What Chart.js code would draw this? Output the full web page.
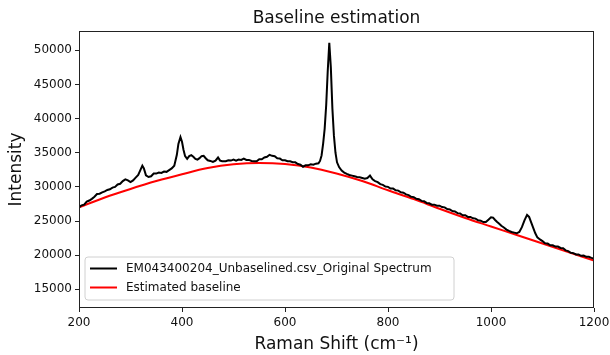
<!DOCTYPE html>
<html>
<head>
<meta charset="utf-8">
<script src="https://cdn.jsdelivr.net/npm/chart.js@4"></script>
<style>
html,body{margin:0;padding:0;background:#fff;}
#wrap{width:610px;height:355px;}
</style>
</head>
<body>
<div id="wrap"><canvas id="c" width="610" height="355"></canvas></div>
<script>
const chartTitle = "Baseline estimation";
const xTitle = "Raman Shift (cm\u207B\u00B9)";
const yTitle = "Intensity";
const spectrumLabel = "EM043400204_Unbaselined.csv_Original Spectrum";
const baselineLabel = "Estimated baseline";
const xTicks = [200, 400, 600, 800, 1000, 1200];
const yTicks = [15000, 20000, 25000, 30000, 35000, 40000, 45000, 50000];

const spectrumX = [200,205,210,215,220,225,230,235,240,245,250,255,260,265,270,275,280,285,290,295,
300,305,310,315,320,323,326,330,335,340,345,350,355,360,365,370,375,380,385,390,
393,397,400,403,406,410,414,418,422,426,430,434,438,442,446,450,455,460,465,470,
474,478,485,490,495,500,505,510,515,520,525,530,535,540,545,550,555,560,565,570,
575,580,585,590,595,600,605,610,615,620,625,630,635,640,645,650,655,660,665,668,
671,674,677,680,683,686,689,692,695,698,701,705,710,715,720,725,730,735,740,745,
750,755,760,765,770,775,780,785,790,795,800,805,810,815,820,825,830,835,840,845,
850,855,860,865,870,875,880,885,890,895,900,905,910,915,920,925,930,935,940,945,
950,955,960,965,970,975,980,985,990,995,1000,1004,1008,1012,1016,1020,1025,1030,1035,1040,
1045,1050,1055,1060,1065,1070,1074,1078,1082,1086,1090,1095,1100,1105,1110,1115,1120,1125,1130,1135,
1140,1145,1150,1155,1160,1165,1170,1175,1180,1185,1190,1195,1200];
const spectrumY = [27000,27300,27400,27850,28000,28250,28550,28950,29000,29200,29350,29550,29650,29900,30000,30350,30450,30850,31100,30950,
30700,30950,31350,31750,32600,33100,32700,31700,31450,31550,31950,31950,32100,32050,32250,32200,32450,32700,33100,34700,
36300,37300,36600,35400,34500,34100,34500,34650,34400,34100,34000,34200,34500,34550,34200,33900,33800,33650,33850,34300,
33850,33750,33750,33900,33850,34000,33850,34000,33950,34150,33950,33950,33800,33750,33750,34050,34050,34300,34400,34700,
34550,34500,34200,34150,33900,33900,33750,33750,33600,33600,33350,33250,32950,33150,33150,33300,33250,33400,33450,33800,
34600,36300,38500,42000,47000,51100,47500,41500,37500,35000,33600,32900,32400,32100,31900,31750,31650,31550,31450,31400,
31300,31200,31300,31650,31100,30850,30700,30400,30300,30050,30000,29750,29750,29500,29450,29200,29150,28900,28800,28550,
28500,28250,28200,27950,27900,27650,27600,27400,27400,27250,27250,27050,27000,26750,26700,26450,26400,26150,26100,25850,
25850,25600,25600,25400,25350,25100,25050,24850,24850,25200,25550,25500,25150,24850,24600,24300,24050,23750,23550,23400,
23300,23200,23400,24100,25100,25900,25600,24800,24000,23200,22600,22300,22050,21750,21700,21450,21450,21250,21250,21050,
21000,20700,20600,20350,20300,20100,20100,19900,19950,19750,19750,19600,19500];

const baselineX = [200,250,300,350,400,450,500,550,600,650,700,750,800,850,900,950,1000,1050,1100,1150,1200];
const baselineY = [27000,28450,29700,30850,31850,32750,33300,33500,33350,32850,31950,30850,29500,28200,26800,25450,24200,22950,21700,20450,19200];

const FONT = "'DejaVu Sans', 'Liberation Sans', sans-serif";

const frameAndLegend = {
  id: 'frameAndLegend',
  afterDatasetsDraw(chart) {
    const ctx = chart.ctx;
    const a = chart.chartArea;
    ctx.save();
    ctx.strokeStyle = '#222';
    ctx.lineWidth = 1;
    ctx.strokeRect(Math.round(a.left) + 0.5, Math.round(a.top) + 0.5,
                   Math.round(a.right - a.left) - 1, Math.round(a.bottom - a.top) - 1);
    const bx = a.left + 6, bw = 369, bh = 43;
    const by = a.bottom - 8 - bh;
    ctx.beginPath();
    const r = 3;
    ctx.moveTo(bx + r, by);
    ctx.lineTo(bx + bw - r, by); ctx.arcTo(bx + bw, by, bx + bw, by + r, r);
    ctx.lineTo(bx + bw, by + bh - r); ctx.arcTo(bx + bw, by + bh, bx + bw - r, by + bh, r);
    ctx.lineTo(bx + r, by + bh); ctx.arcTo(bx, by + bh, bx, by + bh - r, r);
    ctx.lineTo(bx, by + r); ctx.arcTo(bx, by, bx + r, by, r);
    ctx.closePath();
    ctx.fillStyle = 'rgba(255,255,255,0.8)';
    ctx.fill();
    ctx.strokeStyle = '#d0d0d0';
    ctx.lineWidth = 1;
    ctx.stroke();
    ctx.font = '12px ' + FONT;
    ctx.textBaseline = 'middle';
    ctx.textAlign = 'left';
    chart.data.datasets.forEach((ds, i) => {
      const y = by + 11.5 + i * 19;
      ctx.strokeStyle = ds.borderColor;
      ctx.lineWidth = 2;
      ctx.beginPath();
      ctx.moveTo(bx + 5, y);
      ctx.lineTo(bx + 32, y);
      ctx.stroke();
      ctx.fillStyle = '#111';
      ctx.fillText(ds.label, bx + 41, y);
    });
    ctx.restore();
  }
};

const spectrumData = spectrumX.map((x, i) => ({x: x, y: spectrumY[i]}));
const baselineData = baselineX.map((x, i) => ({x: x, y: baselineY[i]}));

new Chart(document.getElementById('c'), {
  type: 'line',
  data: {
    datasets: [
      {label: spectrumLabel, data: spectrumData, borderColor: '#000000', borderWidth: 2,
       pointRadius: 0, tension: 0, fill: false},
      {label: baselineLabel, data: baselineData, borderColor: '#ff0000', borderWidth: 2,
       pointRadius: 0, cubicInterpolationMode: 'monotone', fill: false}
    ]
  },
  options: {
    responsive: false,
    animation: false,
    events: [],
    layout: {padding: {left: 0, right: 16, top: 0, bottom: 0}},
    plugins: {
      legend: {display: false},
      tooltip: {enabled: false},
      title: {display: true, text: chartTitle, fullSize: false, color: '#111',
              font: {family: FONT, size: 17, weight: 'normal'}, padding: {top: 8, bottom: 2.6}}
    },
    scales: {
      x: {
        type: 'linear', min: 200, max: 1200,
        afterBuildTicks: s => { s.ticks = xTicks.map(v => ({value: v})); },
        afterFit: s => { s.height = 47; s.paddingLeft = 0; s.paddingRight = 0; },
        border: {display: false},
        grid: {display: true, drawOnChartArea: false, drawTicks: true, tickLength: 4, color: '#222'},
        ticks: {color: '#111', font: {family: FONT, size: 12}, padding: 4, maxRotation: 0,
                callback: v => String(v)},
        title: {display: true, text: xTitle, color: '#111', font: {family: FONT, size: 17},
                padding: {top: 0, bottom: 0}}
      },
      y: {
        type: 'linear', min: 12260, max: 52830,
        afterBuildTicks: s => { s.ticks = yTicks.map(v => ({value: v})); },
        afterFit: s => { s.width = 79; s.paddingTop = 0; s.paddingBottom = 0; },
        border: {display: false},
        grid: {display: true, drawOnChartArea: false, drawTicks: true, tickLength: 4, color: '#222'},
        ticks: {color: '#111', font: {family: FONT, size: 12}, padding: 3,
                callback: v => String(v)},
        title: {display: true, text: yTitle, color: '#111', font: {family: FONT, size: 17},
                padding: {top: 6, bottom: 0}}
      }
    }
  },
  plugins: [frameAndLegend]
});
</script>
</body>
</html>
